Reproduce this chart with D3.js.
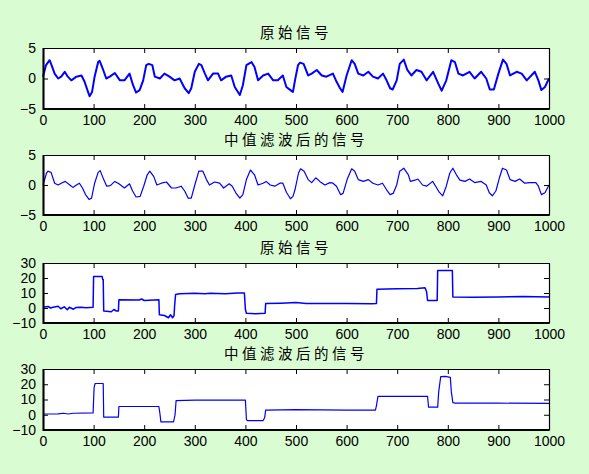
<!DOCTYPE html>
<html>
<head>
<meta charset="utf-8">
<script src="https://cdn.jsdelivr.net/npm/d3@7"></script>
<style>
  html, body { margin: 0; padding: 0; background: #dafcd2; }
  svg { display: block; }
  .tick text { font-family: "Liberation Sans", Arial, sans-serif; font-size: 14px; fill: #000; }
  .title { font-family: "Noto Sans CJK SC", sans-serif; font-size: 14.5px; letter-spacing: 3.5px; fill: #000; }
</style>
</head>
<body>
<svg width="589" height="474"></svg>
<script>
// ------------------------------- DATA below ----------------------------------------------

const titles = ['原始信号', '中值滤波后的信号', '原始信号', '中值滤波后的信号'];
const xTicks = [0, 100, 200, 300, 400, 500, 600, 700, 800, 900, 1000];
const yTicksSine = [-5, 0, 5];
const yTicksStep = [-10, 0, 10, 20, 30];

// [sample, value] - noisy periodic signal
const rawSine = [[0,0.3],[6,2.2],[13,3.0],[16,2.4],[23,0.8],[30,0],[36,0.3],[43,1.1],[49,0.3],[56,-0.3],
  [66,0.3],[76,0.5],[82,-0.5],[89,-2.2],[92,-2.9],[97,-2.2],[102,0.3],[109,2.7],[112,2.9],[119,1.4],
  [125,0],[132,0.3],[142,0.9],[152,-0.3],[161,-0.3],[171,0.8],[178,-1.1],[184,-2.3],[191,-1.9],[198,-0.3],
  [204,2.2],[209,2.4],[216,2.2],[221,0.3],[231,0],[240,0.8],[250,0.3],[260,-0.3],[270,0],[280,-1.6],
  [288,-2.4],[293,-1.6],[300,1.1],[308,2.4],[313,2.2],[320,0.8],[326,-0.3],[336,0.8],[346,0.8],[352,-0.3],
  [362,0.3],[372,0.5],[379,-1.4],[389,-2.7],[395,-1.1],[402,2.2],[412,2.7],[418,1.9],[425,-0.3],[435,0.5],
  [445,0.8],[455,-0.3],[464,-0.3],[474,0.5],[481,-1.4],[489,-1.9],[494,-2.2],[498,-0.3],[504,2.2],[508,2.6],
  [515,2.4],[524,0.5],[531,0.8],[541,1.4],[551,0.5],[560,0.3],[573,0.8],[580,-0.5],[587,-1.6],[592,-2.2],
  [600,0.5],[610,3.0],[616,2.4],[623,0.8],[633,0.5],[643,1.1],[652,0.3],[662,0],[672,0.8],[679,-0.3],
  [686,-1.6],[691,-1.8],[699,-0.3],[705,2.4],[713,3.1],[720,1.4],[728,0.5],[738,1.4],[748,1.1],[758,-0.3],
  [771,1.1],[781,-0.8],[788,-2.0],[797,-0.3],[807,3.0],[814,2.7],[821,0.8],[830,0.5],[843,1.1],[853,0],
  [866,1.1],[876,0],[883,-1.8],[891,-1.8],[900,0.8],[909,3.1],[916,2.4],[923,0.5],[936,1.1],[946,0.8],
  [956,-0.3],[972,1.1],[979,-0.3],[985,-1.9],[992,-1.4],[1000,0]];

// median filtered version of the periodic signal
const filtSine = [[0,0],[7,2.0],[10,2.3],[16,2.1],[23,0.3],[30,0],[36,0.3],[44,0.6],[53,0],[59,-0.4],
  [66,0],[72,0.3],[78,-0.5],[84,-1.6],[91,-2.4],[96,-2.2],[102,0.3],[109,2.1],[113,2.4],[120,0.9],
  [126,-0.2],[133,-0.1],[142,0.6],[150,0.2],[161,-0.5],[171,0.2],[177,-1.0],[184,-2.0],[192,-1.9],[199,-0.2],
  [206,1.7],[211,2.3],[219,1.4],[225,0],[234,0.3],[244,0.5],[254,-0.5],[263,-0.5],[273,-0.2],[280,-1.0],
  [287,-2.2],[293,-2.2],[300,0],[308,2.3],[316,2.3],[323,0.9],[329,0],[339,0.5],[349,0.3],[357,-0.5],
  [368,0.2],[374,-0.2],[381,-1.3],[389,-2.2],[395,-1.6],[402,0.9],[410,2.5],[418,1.7],[425,0],[435,0.3],
  [441,0.6],[449,0],[458,-0.2],[468,0.3],[474,0.3],[481,-1.2],[489,-2.3],[494,-1.9],[498,-0.8],[505,2.0],
  [509,2.7],[516,2.3],[524,0.9],[531,0.4],[539,1.2],[547,0.6],[557,0],[567,0.4],[573,0.3],[580,-0.2],
  [588,-1.6],[593,-1.4],[601,0.9],[610,2.7],[616,2.3],[623,0.9],[633,0.6],[643,0.9],[652,0.3],[662,0],
  [671,0.3],[679,-0.8],[686,-1.6],[692,-1.4],[699,0],[705,2.3],[713,2.8],[722,1.7],[726,0.6],[735,0.8],
  [741,1.0],[750,0],[758,-0.2],[770,0.6],[776,-0.2],[783,-1.2],[790,-1.8],[797,-0.2],[804,2.0],[810,2.8],
  [817,1.7],[824,0.8],[834,0.6],[843,1.0],[853,0.4],[866,0.6],[876,0],[882,-1.3],[888,-1.8],[895,-1.0],
  [902,1.2],[908,2.8],[916,2.5],[923,0.9],[933,0.6],[942,1.0],[952,0.3],[962,0.4],[974,0.4],[979,-0.2],
  [985,-1.6],[992,-1.3],[1000,0]];

// noisy step signal
const rawStep = [[0,0.5],[10,1.0],[15,0],[20,0.5],[30,1.2],[35,-0.5],[42,0.8],[48,-1.2],[52,0.5],[60,-0.8],
  [65,0.3],[75,0.5],[85,0.2],[99,0.5],[100,21],[117,21],[118,19],[119,19],[120,-2],[135,-2.5],[140,-1.0],
  [145,-2],[149,-2],[150,5.5],[190,5.3],[195,6],[200,5],[229,5.5],[230,-4.5],[240,-5],[248,-6.5],[252,-4.5],
  [256,-6.5],[259,-5],[260,1],[262,9],[270,9.5],[300,9.8],[320,9.5],[330,9.9],[360,9.5],[385,10],[398,10],
  [400,-1],[402,-3.5],[420,-3.8],[439,-3.5],[440,3],[470,3.2],[500,3.6],[520,3],[560,3],[600,3],[650,2.8],
  [659,3],[660,12.5],[700,12.8],[740,13],[755,13.5],[758,11],[760,5],[779,5],[780,25],[809,25],[810,7.3],
  [850,7.2],[900,7.4],[950,7.6],[1000,7.4]];

// median filtered step signal
const filtStep = [[0,0.5],[30,0.6],[40,1.0],[50,0.5],[60,1.0],[99,1.2],[101,18],[103,20.5],[119,20.5],
  [120,-1.6],[149,-1.6],[150,5.4],[229,5.4],[231,1],[233,-4.7],[258,-4.7],[261,0],[263,9.2],[300,9.6],
  [400,9.6],[402,-3],[404,-3.8],[435,-3.8],[438,-2],[440,3.0],[500,3.3],[600,3.0],[657,3.0],[659,6],
  [662,12.0],[760,12.0],[762,5],[780,5],[782,15],[786,25],[795,25.2],[805,24.5],[807,15],[810,8],
  [815,7.6],[900,7.6],[1000,7.4]];

// ------------------------------- DRAWING below ----------------------------------------------

const svg = d3.select('svg');
svg.append('rect').attr('width', 589).attr('height', 474).attr('fill', '#dafcd2');

const panels = [
  { top: 48, bottom: 109, domain: [-5, 5], ticks: yTicksSine, data: rawSine, width: 2 },
  { top: 155, bottom: 215, domain: [-5, 5], ticks: yTicksSine, data: filtSine, width: 1.2 },
  { top: 263, bottom: 323, domain: [-10, 30], ticks: yTicksStep, data: rawStep, width: 1.5 },
  { top: 369, bottom: 430, domain: [-10, 30], ticks: yTicksStep, data: filtStep, width: 1.2 },
];

const left = 43;
const right = 549;
const fmt = d3.format('d');

panels.forEach((p, i) => {
  const x = d3.scaleLinear().domain([0, 1000]).range([left, right]);
  const y = d3.scaleLinear().domain(p.domain).range([p.bottom, p.top]);
  const g = svg.append('g');

  g.append('rect')
    .attr('x', left).attr('y', p.top)
    .attr('width', right - left).attr('height', p.bottom - p.top)
    .attr('fill', '#fff');

  const line = d3.line().x((d) => x(d[0])).y((d) => y(d[1]));
  g.append('path')
    .datum(p.data)
    .attr('d', line)
    .attr('fill', 'none')
    .attr('stroke', '#0000ff')
    .attr('stroke-width', p.width)
    .attr('stroke-linejoin', 'round');

  // axes, ticks pointing inward like matlab
  g.append('g').attr('transform', `translate(0,${p.bottom})`)
    .call(d3.axisBottom(x).tickValues(xTicks).tickFormat(fmt).tickSizeInner(-5).tickSizeOuter(0).tickPadding(6));
  g.append('g').attr('transform', `translate(0,${p.top})`)
    .call(d3.axisTop(x).tickValues(xTicks).tickSizeInner(-5).tickSizeOuter(0).tickFormat(''));
  g.append('g').attr('transform', `translate(${left},0)`)
    .call(d3.axisLeft(y).tickValues(p.ticks).tickFormat(fmt).tickSizeInner(-5).tickSizeOuter(0).tickPadding(7));
  g.append('g').attr('transform', `translate(${right},0)`)
    .call(d3.axisRight(y).tickValues(p.ticks).tickSizeInner(-5).tickSizeOuter(0).tickFormat(''));

  g.selectAll('.domain').attr('stroke', '#000').attr('stroke-width', 1.2);
  g.selectAll('.tick line').attr('stroke', '#000');

  // heavier left / bottom edge
  g.append('line').attr('x1', left + 0.5).attr('x2', left + 0.5)
    .attr('y1', p.top).attr('y2', p.bottom + 1).attr('stroke', '#000').attr('stroke-width', 2);
  g.append('line').attr('x1', left).attr('x2', right)
    .attr('y1', p.bottom).attr('y2', p.bottom).attr('stroke', '#000').attr('stroke-width', 2);

  g.append('text')
    .attr('class', 'title')
    .attr('x', 296)
    .attr('y', p.top - 10)
    .attr('text-anchor', 'middle')
    .text(titles[i]);
});
</script>
</body>
</html>
